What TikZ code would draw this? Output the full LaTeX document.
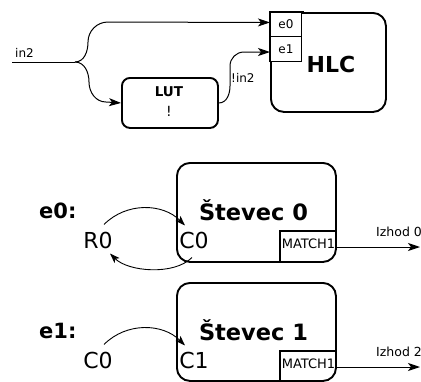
\documentclass[tikz,border=0pt]{standalone}
\usepackage{fontspec}
\setmainfont{DejaVu Sans}
\usetikzlibrary{arrows.meta}
\begin{document}
\begin{tikzpicture}[x=1pt,y=-1pt,
  box/.style={draw, line width=1.9pt, rounded corners=13pt, anchor=north west, inner sep=0pt},
  lutbox/.style={draw, line width=1.9pt, rounded corners=8pt, anchor=north west, inner sep=0pt},
  cell/.style={draw, line width=1pt, fill=white, anchor=north west, inner sep=0pt},
  thick border/.style={line width=1.9pt},
  mborder/.style={line width=1.5pt},
  wire/.style={line width=1pt},
  conn/.style={line width=1pt, -{Stealth[length=12pt,width=8pt,inset=3pt]}},
  arcc/.style={line width=0.9pt, -{Stealth[length=10pt,width=7pt,inset=2.5pt]}},
  txt/.style={inner sep=0pt},
]
\useasboundingbox (0,0) rectangle (421,381);

% ---------- top part ----------
\node[box, minimum width=115pt, minimum height=99pt] (hlc) at (270,12) {};
\node[cell, minimum width=31pt, minimum height=24pt] (e0) at (270,12) {};
\node[cell, minimum width=31pt, minimum height=25pt] (e1) at (270,36) {};
\draw[thick border] (e1.south west) -- (e0.north west) -- ([xshift=2pt]e0.north east);
\node[txt, font=\fontsize{12}{14}\selectfont] (e0t) at (286,24) {e0};
\node[txt, font=\fontsize{12}{14}\selectfont] (e1t) at (286,49) {e1};
\node[txt, font=\bfseries\fontsize{22}{26}\selectfont] (hlct) at (331,64) {HLC};

\node[lutbox, minimum width=96pt, minimum height=50pt] (lut) at (121,77) {};
\node[txt, font=\bfseries\fontsize{13.5}{16}\selectfont] (lutt) at (169,92) {LUT};
\node[txt, font=\fontsize{14}{16}\selectfont] (lutn) at (169,111.5) {!};

\coordinate (in2s) at (12,62);
\coordinate (fork) at (75,62);
\node[txt, anchor=base west, font=\fontsize{12}{14}\selectfont] (in2t) at (15,57) {in2};
\draw[wire] (in2s) -- (fork);
\draw[conn] (fork) to[out=0,in=-90] (88,42) to[out=90,in=180] (108,22) -- ([yshift=2pt]e0.west);
\draw[conn] (fork) to[out=0,in=90] (89,82) to[out=-90,in=180] (106,102) -- (lut.west);
\draw[conn] (lut.east) to[out=0,in=-90] (230,86) -- (230,66) to[out=90,in=180] (244,52) -- ([yshift=-3pt]e1.west);
\node[txt, anchor=west, font=\fontsize{12}{14}\selectfont] (nin2) at (231,77.5) {!in2};

% ---------- Stevec 0 ----------
\node[box, minimum width=159pt, minimum height=99pt] (s0) at (176,162) {};
\node[txt, anchor=base, font=\bfseries\fontsize{22.5}{26}\selectfont] (s0t) at (253.5,220) {Števec 0};
\node[anchor=north west, inner sep=0pt, minimum width=55pt, minimum height=30pt] (m0) at (280,231) {};
\draw[mborder] (m0.south west) -- (m0.north west) -- (m0.north east);
\node[txt, font=\fontsize{13}{15}\selectfont] (m0t) at (308.5,244) {MATCH1};
\node[txt, anchor=base west, font=\bfseries\fontsize{21}{25}\selectfont] (e0l) at (39,218) {e0:};
\node[txt, anchor=base, font=\fontsize{22}{26}\selectfont] (r0) at (98,248) {R0};
\node[txt, anchor=base, font=\fontsize{22}{26}\selectfont] (c0) at (194,248) {C0};
\draw[arcc] ([xshift=6pt,yshift=7pt]r0.north) to[out=45,in=135] ([xshift=-9pt,yshift=6pt]c0.north);
\draw[arcc] ([xshift=-2pt,yshift=-9pt]c0.south) to[out=-135,in=-45,looseness=0.8] ([xshift=12pt,yshift=-5pt]r0.south);
\coordinate (o0) at (420,247);
\draw[conn] (m0.east |- o0) -- (o0);
\node[txt, anchor=base west, font=\fontsize{12.5}{15}\selectfont] (iz0) at (376,236) {Izhod 0};

% ---------- Stevec 1 ----------
\node[box, minimum width=159pt, minimum height=98pt] (s1) at (176,282) {};
\node[txt, anchor=base, font=\bfseries\fontsize{22.5}{26}\selectfont] (s1t) at (253.5,340) {Števec 1};
\node[anchor=north west, inner sep=0pt, minimum width=55pt, minimum height=29pt] (m1) at (280,351) {};
\draw[mborder] (m1.south west) -- (m1.north west) -- (m1.north east);
\node[txt, font=\fontsize{13}{15}\selectfont] (m1t) at (308.5,364) {MATCH1};
\node[txt, anchor=base west, font=\bfseries\fontsize{21}{25}\selectfont] (e1l) at (39,338) {e1:};
\node[txt, anchor=base, font=\fontsize{22}{26}\selectfont] (c0b) at (98,368) {C0};
\node[txt, anchor=base, font=\fontsize{22}{26}\selectfont] (c1) at (194,368) {C1};
\draw[arcc] ([xshift=6pt,yshift=7pt]c0b.north) to[out=45,in=135] ([xshift=-9pt,yshift=6pt]c1.north);
\coordinate (o1) at (420,367);
\draw[conn] (m1.east |- o1) -- (o1);
\node[txt, anchor=base west, font=\fontsize{12.5}{15}\selectfont] (iz1) at (376,356) {Izhod 2};
\end{tikzpicture}
\end{document}
